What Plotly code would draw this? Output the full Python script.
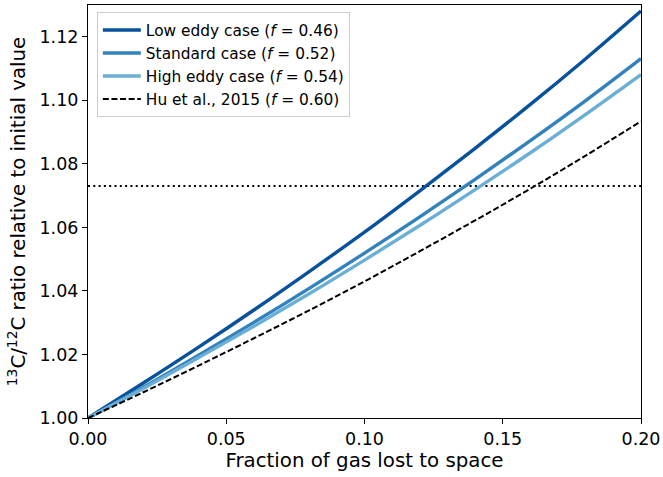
import plotly.graph_objects as go

# Fraction of gas lost to space
fraction_lost = [0.00, 0.02, 0.04, 0.06, 0.08, 0.10, 0.12, 0.14, 0.16, 0.18, 0.20]

# 13C/12C ratio relative to initial value
low_eddy = [1.0000, 1.0110, 1.0223, 1.0340, 1.0461, 1.0585, 1.0715, 1.0849, 1.0987, 1.1131, 1.1281]
standard = [1.0000, 1.0097, 1.0198, 1.0301, 1.0408, 1.0519, 1.0633, 1.0751, 1.0873, 1.0999, 1.1131]
high_eddy = [1.0000, 1.0093, 1.0190, 1.0289, 1.0391, 1.0497, 1.0606, 1.0719, 1.0835, 1.0956, 1.1081]
hu_2015 = [1.0000, 1.0081, 1.0165, 1.0251, 1.0339, 1.0430, 1.0525, 1.0622, 1.0722, 1.0826, 1.0934]

# Observed reference level (dotted line)
ref_x = [0.0, 0.2]
ref_y = [1.073, 1.073]

series_names = [
    "Low eddy case (<i>f</i> = 0.46)",
    "Standard case (<i>f</i> = 0.52)",
    "High eddy case (<i>f</i> = 0.54)",
    "Hu et al., 2015 (<i>f</i> = 0.60)",
]
x_ticks = [0.00, 0.05, 0.10, 0.15, 0.20]
y_ticks = [1.00, 1.02, 1.04, 1.06, 1.08, 1.10, 1.12]

fig = go.Figure()

fig.add_trace(go.Scatter(x=ref_x, y=ref_y, mode="lines", showlegend=False,
                         line=dict(color="black", width=2, dash="2px,3.3px"),
                         hoverinfo="skip"))

styles = [
    dict(color="#08519c", width=3.4),
    dict(color="#3182bd", width=3.4),
    dict(color="#6baed6", width=3.4),
    dict(color="black", width=2, dash="6px,2.6px"),
]
for name, ys, st in zip(series_names, [low_eddy, standard, high_eddy, hu_2015], styles):
    fig.add_trace(go.Scatter(x=fraction_lost, y=ys, mode="lines", name=name,
                             line=dict(shape="spline", **st)))

axis_common = dict(
    showline=True, linecolor="black", linewidth=1.1, mirror=True,
    ticks="outside", ticklen=5, tickwidth=1.1, tickcolor="black",
    showgrid=False, zeroline=False,
    tickfont=dict(family="DejaVu Sans", size=17.5, color="black"),
)

fig.update_layout(
    width=663, height=477,
    margin=dict(l=88, r=22, t=5, b=59),
    paper_bgcolor="white", plot_bgcolor="white",
    font=dict(family="DejaVu Sans", color="black"),
    xaxis=dict(range=[0, 0.2], tickvals=x_ticks, tickformat=".2f",
               title=dict(text="Fraction of gas lost to space",
                          font=dict(size=19.8), standoff=4),
               automargin=False, **axis_common),
    yaxis=dict(range=[1.0, 1.13], tickvals=y_ticks, tickformat=".2f",
               title=dict(text="<sup>13</sup>C/<sup>12</sup>C ratio relative to initial value",
                          font=dict(size=19.8), standoff=8),
               automargin=False, **axis_common),
    legend=dict(x=0.016, y=0.982, xanchor="left", yanchor="top",
                bgcolor="white", bordercolor="#cccccc", borderwidth=1,
                font=dict(family="DejaVu Sans", size=15.4, color="black"),
                tracegroupgap=0, itemwidth=38),
    showlegend=True,
)

fig.write_html("out.html",
               config={"displayModeBar": False},
               post_script="document.body.style.margin='0';document.body.style.padding='0';")
